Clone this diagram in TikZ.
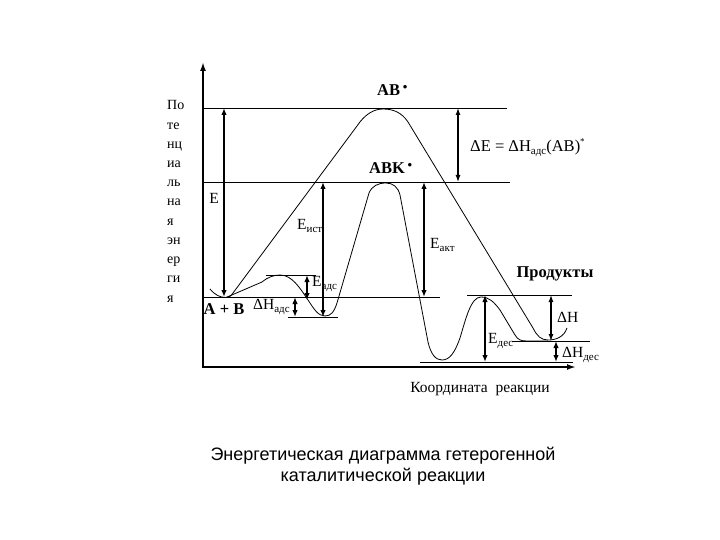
\documentclass[tikz,border=0pt]{standalone}
\usepackage{fontspec}
\setmainfont{Liberation Serif}
\newfontfamily\titlefont{Liberation Sans}
\usetikzlibrary{arrows.meta}
\newcommand{\fs}[1]{\fontsize{#1}{#1}\selectfont}
\newcommand{\lowsub}[1]{\raisebox{-0.5ex}{\fs{11}#1}}
\begin{document}
\begin{tikzpicture}[x=1pt,y=-1pt,
  level/.style={line width=0.9pt},
  axisline/.style={line width=2.4pt,{Latex[length=9pt,width=6pt]}-{Latex[length=9pt,width=6pt]}},
  dbl/.style={line width=2pt,{Latex[length=7pt,width=5.5pt]}-{Latex[length=7pt,width=5.5pt]}},
  dblthin/.style={line width=1.2pt,{Latex[length=7pt,width=5pt]}-{Latex[length=7pt,width=5pt]}},
  curve/.style={line width=0.8pt},
  lbl/.style={inner sep=0pt,font=\fs{15.5}},
  lblb/.style={inner sep=0pt,font=\fs{16.5}\bfseries},
  side/.style={inner sep=0pt,font=\fs{14},anchor=base west},
]
\useasboundingbox (0,0) rectangle (720,540);

% axes
\coordinate (ytop) at (203,62);
\coordinate (O) at (203,367);
\coordinate (xend) at (576,367);
\draw[axisline,line join=miter] (ytop) -- (O) -- (xend);

% levels
\coordinate (ab1) at (203,108);  \coordinate (ab2) at (507,108);
\coordinate (abk1) at (203,182); \coordinate (abk2) at (510,182);
\coordinate (r1) at (203,297);   \coordinate (r2) at (440,297);
\coordinate (ts1) at (266,275);  \coordinate (ts2) at (316,275);
\coordinate (ad1) at (288,317);  \coordinate (ad2) at (338,317);
\coordinate (pd1) at (467,295);  \coordinate (pd2) at (572,295);
\coordinate (pr1) at (512,341);  \coordinate (pr2) at (590,341);
\coordinate (bt1) at (420,362);  \coordinate (bt2) at (573,362);
\foreach \a/\b in {ab1/ab2,abk1/abk2,r1/r2,ts1/ts2,ad1/ad2,pd1/pd2,pr1/pr2,bt1/bt2}
  \draw[level] (\a) -- (\b);

% curves
\draw[curve] (210,289) .. controls (215,295) and (220,297.5) .. (226,297.5)
  .. controls (229,297.5) and (231,296) .. (233,293) -- (357,126)
  .. controls (365,114) and (374,109) .. (383,109)
  .. controls (394,109) and (402,113) .. (408,122) -- (533,328)
  .. controls (537,336) and (541,340) .. (548,340)
  .. controls (556,340) and (564,337) .. (567,328);
\draw[curve] (226,297.5) -- (262,282)
  .. controls (268,277) and (274,275) .. (280,275)
  .. controls (292,275) and (300,288) .. (308,300)
  .. controls (314,309) and (318,316) .. (325,316)
  .. controls (331,316) and (334,312) .. (337,303) -- (369,193)
  .. controls (372,186) and (378,183) .. (386,183)
  .. controls (393,183) and (398,187) .. (400,195) -- (428,342)
  .. controls (431,355) and (436,360) .. (442,360)
  .. controls (450,360) and (455,352) .. (460,338)
  .. controls (466,318) and (471,297) .. (481,297)
  .. controls (489,297) and (494,302) .. (500,310) -- (515,335)
  .. controls (518,340) and (521,341) .. (527,341) -- (548,341);

% vertical arrows
\coordinate (eA) at (224,108);  \coordinate (eB) at (224,297);
\coordinate (iA) at (323,182);  \coordinate (iB) at (323,317);
\coordinate (kA) at (424,182);  \coordinate (kB) at (424,297);
\coordinate (dA) at (458,108);  \coordinate (dB) at (458,182);
\coordinate (sA) at (307,275);  \coordinate (sB) at (307,300);
\coordinate (hA) at (295,297);  \coordinate (hB) at (295,317);
\coordinate (qA) at (485,295);  \coordinate (qB) at (485,362);
\coordinate (pA) at (551,295);  \coordinate (pB) at (551,341);
\coordinate (tA) at (556,341);  \coordinate (tB) at (556,362);
\foreach \a/\b in {eA/eB,iA/iB,kA/kB,sA/sB,hA/hB,qA/qB,tA/tB}
  \draw[dbl] (\a) -- (\b);
\draw[dblthin] (dA) -- (dB);
\draw[dblthin] (pA) -- (pB);

% labels
\node[lblb,anchor=base west] (lab) at (377,96) {AB\,\raisebox{0.55ex}{\fs{13}•}};
\node[lblb,anchor=base west] (labk) at (369,174) {ABK\,\raisebox{0.55ex}{\fs{13}•}};
\node[lbl,anchor=west,font=\fs{16.5}] (lde) at (470,148) {ΔE = ΔH\lowsub{адс}(AB)\raisebox{0.8ex}{\fs{9}*}};
\node[lbl] (lE) at (214,198) {E};
\node[lbl,anchor=west] (list) at (297,226) {E\lowsub{ист}};
\node[lbl,anchor=west] (lakt) at (430,245) {E\lowsub{акт}};
\node[lblb] (lprod) at (555,274) {Продукты};
\node[lbl,anchor=west] (lads) at (312,284) {E\lowsub{адс}};
\node[lblb] (lab0) at (224,309) {A + B};
\node[lbl,anchor=west] (ldhads) at (253,307) {ΔH\lowsub{адс}};
\node[lbl,anchor=west] (ldh) at (557,317) {ΔH};
\node[lbl,anchor=west] (ldes) at (488,341) {E\lowsub{дес}};
\node[lbl,anchor=west] (ldhdes) at (562,355) {ΔH\lowsub{дес}};
\node[inner sep=0pt,font=\fs{15.5}] (lx) at (480,389) {Координата\ \ реакции};
\node[inner sep=0pt,font=\titlefont\fs{18}] (t1) at (383,456) {Энергетическая диаграмма гетерогенной};
\node[inner sep=0pt,font=\titlefont\fs{18}] (t2) at (383,477) {каталитической реакции};

% side label
\foreach \t [count=\i from 0] in {По,те,нц,иа,ль,на,я,эн,ер,ги,я}
  \node[side] (s\i) at (167,110+19.2*\i) {\t};
\end{tikzpicture}
\end{document}
